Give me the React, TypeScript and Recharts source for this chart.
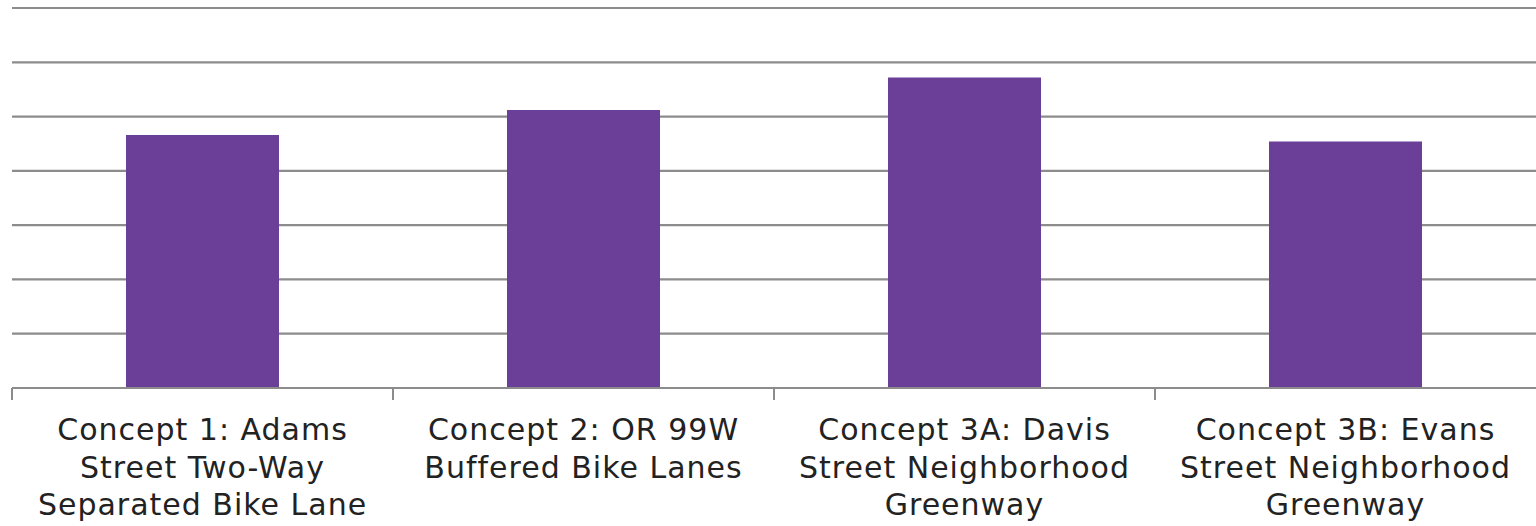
import { BarChart, Bar, XAxis, YAxis, CartesianGrid } from "recharts";

// tick labels, broken the way the reference wraps them
const labelLines = [
  ["Concept 1: Adams", "Street Two-Way", "Separated Bike Lane"],
  ["Concept 2: OR 99W", "Buffered Bike Lanes"],
  ["Concept 3A: Davis", "Street Neighborhood", "Greenway"],
  ["Concept 3B: Evans", "Street Neighborhood", "Greenway"],
];
const categories = labelLines.map((l) => l.join(" "));
const scores = [2.33, 2.56, 2.86, 2.27];
const yTicks = [0, 0.5, 1, 1.5, 2, 2.5, 3, 3.5];

const data = categories.map((name, i) => ({ name, score: scores[i] }));

const GRID = "#8c8c8c";
const BAR = "#6b3f97";

function CategoryTick(props: any) {
  const { x, y, payload } = props;
  const idx = categories.indexOf(payload.value);
  const lines = labelLines[idx] ?? [String(payload.value)];
  // left edge of the category band, so the tick marks sit between bars
  const edge = typeof payload.offset === "number" ? x - payload.offset : null;
  return (
    <g>
      {edge !== null && (
        <line x1={edge} x2={edge} y1={y} y2={y + 12} stroke={GRID} strokeWidth={2} />
      )}
      <text
        textAnchor="middle"
        fill="#222"
        fontSize={30}
        letterSpacing={1}
        fontFamily="'DejaVu Sans', sans-serif"
      >
        {lines.map((ln, i) => (
          <tspan key={i} x={x} y={y + 52 + i * 37.5}>
            {ln}
          </tspan>
        ))}
      </text>
    </g>
  );
}

export default function App() {
  return (
    <div style={{ position: "absolute", left: 0, top: 0, background: "#fff" }}>
      <BarChart
        width={1536}
        height={526}
        data={data}
        margin={{ top: 8, right: 0, left: 12, bottom: 0 }}
      >
        <CartesianGrid vertical={false} stroke={GRID} strokeWidth={2.2} />
        <YAxis hide domain={[0, 3.5]} ticks={yTicks} />
        <XAxis
          dataKey="name"
          height={138}
          interval={0}
          tickSize={0}
          tickMargin={0}
          tickLine={false}
          axisLine={{ stroke: GRID, strokeWidth: 2.2 }}
          tick={<CategoryTick />}
        />
        <Bar dataKey="score" fill={BAR} barSize={153} isAnimationActive={false} />
      </BarChart>
    </div>
  );
}
